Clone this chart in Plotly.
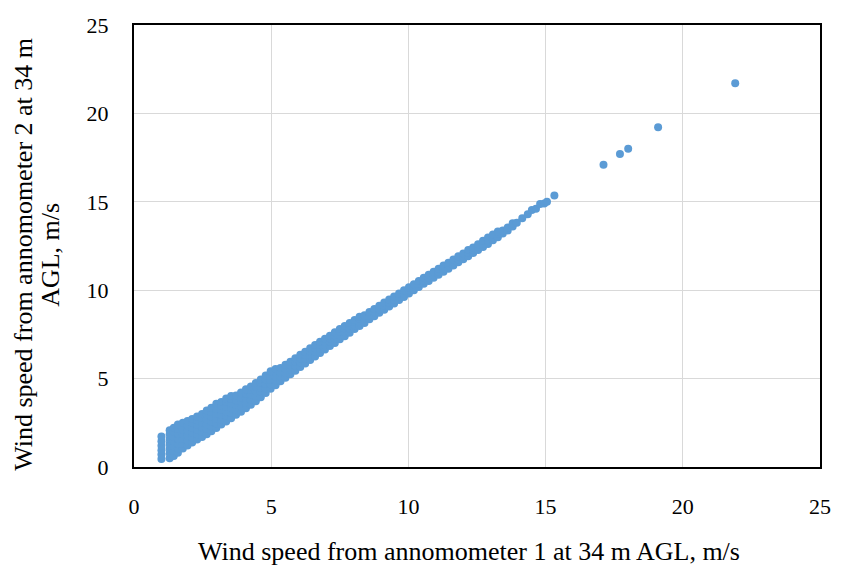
import plotly.graph_objects as go

# Column-wise readings of the dense band (anemometer 1 value -> anemometer 2 values)
band_x = [1.00, 1.30, 1.45, 1.60, 1.78, 1.95, 2.12, 2.30, 2.48, 2.65, 2.82, 3.00,
          3.18, 3.36, 3.54, 3.72, 3.90, 4.08, 4.26, 4.44, 4.62, 4.80, 4.98, 5.16,
          5.34, 5.52, 5.70, 5.88, 6.06, 6.24, 6.42, 6.60, 6.78, 6.96, 7.14, 7.32,
          7.50, 7.68, 7.86, 8.04, 8.22, 8.40, 8.58, 8.76, 8.94, 9.12, 9.30, 9.48,
          9.66, 9.84, 10.02, 10.20, 10.38, 10.56, 10.74, 10.92, 11.10, 11.28, 11.46,
          11.64, 11.82, 12.00, 12.18, 12.36, 12.54, 12.72, 12.90, 13.08, 13.26,
          13.44, 13.62, 13.80, 13.95, 14.15, 14.35, 14.50, 14.65, 14.80, 14.95,
          15.05, 15.32]
band_y = [
    [0.45, 0.70, 0.95, 1.20, 1.45, 1.72],
    [0.50, 0.78, 1.05, 1.32, 1.58, 1.85, 2.08],
    [0.62, 0.90, 1.18, 1.45, 1.72, 2.00, 2.22],
    [0.80, 1.05, 1.32, 1.60, 1.88, 2.15, 2.40],
    [1.05, 1.30, 1.58, 1.85, 2.12, 2.50],
    [1.22, 1.52, 1.80, 2.08, 2.35, 2.60],
    [1.38, 1.68, 1.95, 2.22, 2.50, 2.72],
    [1.55, 1.85, 2.12, 2.40, 2.65, 2.85],
    [1.70, 1.98, 2.25, 2.52, 2.78, 3.00],
    [1.85, 2.15, 2.42, 2.70, 2.98, 3.20],
    [2.02, 2.30, 2.58, 2.85, 3.12, 3.35],
    [2.20, 2.48, 2.75, 3.02, 3.30, 3.58],
    [2.40, 2.68, 2.95, 3.22, 3.48, 3.68],
    [2.58, 2.88, 3.15, 3.42, 3.68, 3.88],
    [2.76, 3.05, 3.32, 3.60, 3.85, 4.02],
    [2.95, 3.22, 3.50, 3.78, 4.05],
    [3.12, 3.42, 3.70, 3.95, 4.22],
    [3.32, 3.62, 3.90, 4.15, 4.40],
    [3.52, 3.82, 4.10, 4.35, 4.55],
    [3.72, 4.02, 4.28, 4.55, 4.75],
    [3.95, 4.25, 4.50, 4.75, 4.95],
    [4.18, 4.45, 4.70, 4.95, 5.18],
    [4.42, 4.68, 4.92, 5.15, 5.42],
    [4.62, 4.90, 5.12, 5.35, 5.55],
    [4.85, 5.12, 5.35, 5.60],
    [5.05, 5.32, 5.55, 5.78],
    [5.25, 5.52, 5.75, 5.95],
    [5.45, 5.72, 5.95, 6.15],
    [5.65, 5.92, 6.15, 6.35],
    [5.85, 6.12, 6.35, 6.52],
    [6.05, 6.32, 6.55, 6.72],
    [6.25, 6.52, 6.72, 6.90],
    [6.45, 6.70, 6.92, 7.08],
    [6.65, 6.90, 7.10, 7.25],
    [6.85, 7.08, 7.28, 7.42],
    [7.02, 7.25, 7.45, 7.62],
    [7.22, 7.45, 7.65, 7.80],
    [7.40, 7.62, 7.82, 7.98],
    [7.60, 7.82, 8.02, 8.15],
    [7.80, 8.00, 8.20, 8.32],
    [7.98, 8.18, 8.38, 8.50],
    [8.15, 8.38, 8.58],
    [8.35, 8.56, 8.76],
    [8.52, 8.75, 8.94],
    [8.72, 8.92, 9.12],
    [8.90, 9.10, 9.30],
    [9.08, 9.28, 9.48],
    [9.25, 9.45, 9.64],
    [9.45, 9.65, 9.82],
    [9.62, 9.82, 10.00],
    [9.82, 10.00, 10.16],
    [10.00, 10.18, 10.34],
    [10.18, 10.35, 10.52],
    [10.36, 10.52, 10.70],
    [10.52, 10.70, 10.88],
    [10.70, 10.88, 11.04],
    [10.88, 11.05, 11.22],
    [11.05, 11.22, 11.40],
    [11.22, 11.40, 11.55],
    [11.40, 11.58, 11.74],
    [11.58, 11.75, 11.92],
    [11.75, 11.92, 12.08],
    [11.92, 12.10, 12.28],
    [12.10, 12.28, 12.42],
    [12.28, 12.45, 12.60],
    [12.45, 12.62, 12.80],
    [12.62, 12.80, 12.98],
    [12.82, 13.00, 13.15],
    [13.00, 13.18, 13.32],
    [13.20, 13.38],
    [13.38, 13.55],
    [13.60, 13.78],
    [13.82],
    [14.07],
    [14.30],
    [14.54],
    [14.60],
    [14.88],
    [14.90],
    [15.00],
    [15.35],
]

# Isolated high-wind readings
outlier_x = [17.11, 17.71, 18.01, 19.10, 21.91]
outlier_y = [17.10, 17.70, 18.00, 19.21, 21.70]

tick_vals = [0, 5, 10, 15, 20, 25]
x_title = "Wind speed from annomometer 1 at 34 m AGL, m/s"
y_title_1 = "Wind speed from annomometer 2 at 34 m"
y_title_2 = "AGL, m/s"

xs, ys = [], []
for xv, col in zip(band_x, band_y):
    for yv in col:
        xs.append(xv)
        ys.append(yv)
xs += outlier_x
ys += outlier_y

FONT = "Liberation Serif, Times New Roman, serif"

fig = go.Figure(go.Scatter(
    x=xs, y=ys, mode="markers",
    marker=dict(size=8, color="#5B9BD5", line=dict(width=0)),
    hoverinfo="x+y", showlegend=False,
))

axis_common = dict(
    range=[0, 25], tickvals=tick_vals, showgrid=True, gridcolor="#D9D9D9",
    gridwidth=1, zeroline=False, showline=True, linecolor="black", linewidth=2,
    mirror=True, ticks="", tickfont=dict(family=FONT, size=22, color="black"),
)

fig.update_layout(
    width=843, height=567,
    margin=dict(l=134, r=15, t=25, b=100),
    paper_bgcolor="white", plot_bgcolor="white",
    font=dict(family=FONT, color="black"),
    xaxis=dict(**axis_common, ticklabelstandoff=19),
    yaxis=dict(**axis_common, ticklabelstandoff=19),
    annotations=[
        dict(text=x_title, xref="paper", yref="paper", x=0.488, y=0,
             yshift=-84, xanchor="center", yanchor="middle", showarrow=False,
             borderpad=0, font=dict(family=FONT, size=26, color="black")),
        dict(text=y_title_1, xref="paper", yref="paper", x=0, y=0.48,
             xshift=-110, xanchor="center", yanchor="middle", showarrow=False,
             textangle=-90, font=dict(family=FONT, size=26, color="black")),
        dict(text=y_title_2, xref="paper", yref="paper", x=0, y=0.48,
             xshift=-83, xanchor="center", yanchor="middle", showarrow=False,
             textangle=-90, font=dict(family=FONT, size=26, color="black")),
    ],
)

fig.write_html("out.html")
